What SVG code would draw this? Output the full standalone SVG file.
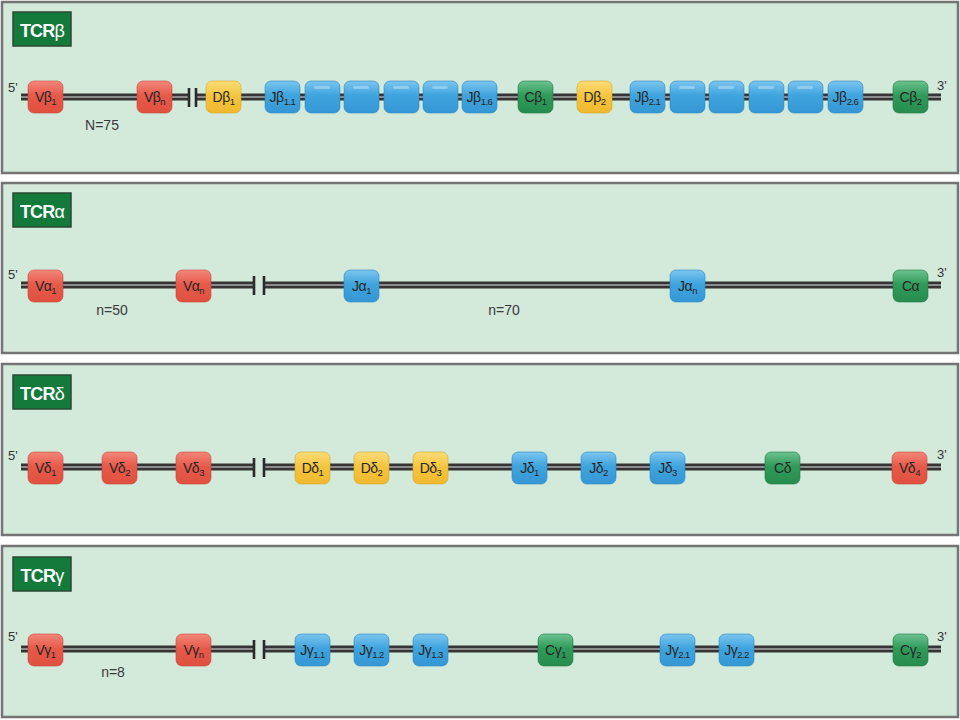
<svg xmlns="http://www.w3.org/2000/svg" width="960" height="720" viewBox="0 0 960 720">
<style>
.panel{fill:#d3e9da;stroke:#747474;stroke-width:2.5}
.title rect{fill:#137a3c;stroke:#2d4a34;stroke-width:1.5}
.title text{fill:#ffffff;font-family:"Liberation Sans",Arial,sans-serif;font-weight:bold;font-size:18px;letter-spacing:-0.8px}
.title tspan{font-weight:normal}
.dna{stroke:#353535;stroke-width:7;fill:none}
.dnac{stroke:#8c8c8c;stroke-width:2;fill:none}
.brk{stroke:#2a2a2a;stroke-width:2.6}
.seg{stroke-width:0.6}
.red{fill:url(#gr);stroke:#c9463a}
.blu{fill:url(#gb);stroke:#2b8ac4}
.yel{fill:url(#gy);stroke:#d9a828}
.grn{fill:url(#gg);stroke:#227c46}
.lbl{font-family:"Liberation Sans",Arial,sans-serif;font-size:14px;fill:#262626;text-anchor:middle;letter-spacing:-0.5px}
.sub{font-size:9.5px}
.end{font-family:"Liberation Sans",Arial,sans-serif;font-size:13px;fill:#333}
.cnt{font-family:"Liberation Sans",Arial,sans-serif;font-size:14px;fill:#3a3a3a;text-anchor:middle}
.hl{fill:#ffffff;opacity:0.3}
</style>
<defs>
<linearGradient id="gr" x1="0" y1="0" x2="0" y2="1"><stop offset="0" stop-color="#f3877a"/><stop offset="0.45" stop-color="#e65a4a"/><stop offset="1" stop-color="#e0503f"/></linearGradient>
<linearGradient id="gb" x1="0" y1="0" x2="0" y2="1"><stop offset="0" stop-color="#7cc5ee"/><stop offset="0.45" stop-color="#3fa4de"/><stop offset="1" stop-color="#3597d4"/></linearGradient>
<linearGradient id="gy" x1="0" y1="0" x2="0" y2="1"><stop offset="0" stop-color="#fbdc78"/><stop offset="0.45" stop-color="#f5c540"/><stop offset="1" stop-color="#efb92e"/></linearGradient>
<linearGradient id="gg" x1="0" y1="0" x2="0" y2="1"><stop offset="0" stop-color="#6cc290"/><stop offset="0.45" stop-color="#2f9b5a"/><stop offset="1" stop-color="#278c4f"/></linearGradient>
</defs>
<rect width="960" height="720" fill="#ffffff"/>

<!-- Panels -->
<rect class="panel" x="2" y="2" width="956" height="171"/>
<rect class="panel" x="2" y="183" width="956" height="170"/>
<rect class="panel" x="2" y="364" width="956" height="171"/>
<rect class="panel" x="2" y="546" width="956" height="171"/>

<g id="title-beta" class="title"><rect x="13" y="12" width="58" height="34"/><text x="42" y="37" text-anchor="middle">TCR<tspan>β</tspan></text></g>
<g id="title-alpha" class="title"><rect x="13" y="193" width="58" height="34"/><text x="42" y="218" text-anchor="middle">TCR<tspan>α</tspan></text></g>
<g id="title-delta" class="title"><rect x="13" y="375" width="58" height="34"/><text x="42" y="400" text-anchor="middle">TCR<tspan>δ</tspan></text></g>
<g id="title-gamma" class="title"><rect x="13" y="557" width="58" height="34"/><text x="42" y="582" text-anchor="middle">TCR<tspan>γ</tspan></text></g>

<!-- Connectors: DNA strands -->
<g id="connectors">
<path class="dna" d="M21 97H189M197 97H941"/>
<path class="dnac" d="M21 97H189M197 97H941"/>
<path class="brk" d="M189 88V107M196 88V107"/>
<path class="dna" d="M21 285H254M264 285H941"/>
<path class="dnac" d="M21 285H254M264 285H941"/>
<path class="brk" d="M254 276V295M264 276V295"/>
<path class="dna" d="M21 467H254M264 467H941"/>
<path class="dnac" d="M21 467H254M264 467H941"/>
<path class="brk" d="M254 458V477M264 458V477"/>
<path class="dna" d="M21 649H254M264 649H941"/>
<path class="dnac" d="M21 649H254M264 649H941"/>
<path class="brk" d="M254 640V659M264 640V659"/>
</g>

<g id="ends">
<text class="end" x="8" y="92">5'</text><text class="end" x="937" y="90">3'</text>
<text class="end" x="8" y="279">5'</text><text class="end" x="937" y="277">3'</text>
<text class="end" x="8" y="460">5'</text><text class="end" x="937" y="459">3'</text>
<text class="end" x="8" y="641">5'</text><text class="end" x="937" y="641">3'</text>
<text class="cnt" x="102" y="130">N=75</text>
<text class="cnt" x="112" y="315">n=50</text>
<text class="cnt" x="504" y="315">n=70</text>
<text class="cnt" x="113" y="677">n=8</text>
</g>

<!-- TCR beta -->
<g id="Vb1"><rect class="seg red" x="28" y="81" width="35" height="32" rx="6"/><text class="lbl" x="45.5" y="102">Vβ<tspan class="sub" dy="3">1</tspan></text></g>
<g id="Vbn"><rect class="seg red" x="137" y="81" width="35" height="32" rx="6"/><text class="lbl" x="154.5" y="102">Vβ<tspan class="sub" dy="3">n</tspan></text></g>
<g id="Db1"><rect class="seg yel" x="206" y="81" width="35" height="32" rx="6"/><text class="lbl" x="223.5" y="102">Dβ<tspan class="sub" dy="3">1</tspan></text></g>
<g id="Jb1-1"><rect class="seg blu" x="265" y="81" width="35" height="32" rx="6"/><text class="lbl" x="282.5" y="102">Jβ<tspan class="sub" dy="3">1.1</tspan></text></g>
<g id="Jb1-2"><rect class="seg blu" x="305" y="81" width="35" height="32" rx="6"/><rect class="hl" x="314" y="86" width="16" height="3" rx="1.5"/></g>
<g id="Jb1-3"><rect class="seg blu" x="344" y="81" width="35" height="32" rx="6"/><rect class="hl" x="353" y="86" width="16" height="3" rx="1.5"/></g>
<g id="Jb1-4"><rect class="seg blu" x="384" y="81" width="35" height="32" rx="6"/><rect class="hl" x="393" y="86" width="16" height="3" rx="1.5"/></g>
<g id="Jb1-5"><rect class="seg blu" x="423" y="81" width="35" height="32" rx="6"/><rect class="hl" x="432" y="86" width="16" height="3" rx="1.5"/></g>
<g id="Jb1-6"><rect class="seg blu" x="462" y="81" width="35" height="32" rx="6"/><text class="lbl" x="479.5" y="102">Jβ<tspan class="sub" dy="3">1.6</tspan></text></g>
<g id="Cb1"><rect class="seg grn" x="518" y="81" width="35" height="32" rx="6"/><text class="lbl" x="535.5" y="102">Cβ<tspan class="sub" dy="3">1</tspan></text></g>
<g id="Db2"><rect class="seg yel" x="577" y="81" width="35" height="32" rx="6"/><text class="lbl" x="594.5" y="102">Dβ<tspan class="sub" dy="3">2</tspan></text></g>
<g id="Jb2-1"><rect class="seg blu" x="630" y="81" width="35" height="32" rx="6"/><text class="lbl" x="647.5" y="102">Jβ<tspan class="sub" dy="3">2.1</tspan></text></g>
<g id="Jb2-2"><rect class="seg blu" x="670" y="81" width="35" height="32" rx="6"/><rect class="hl" x="679" y="86" width="16" height="3" rx="1.5"/></g>
<g id="Jb2-3"><rect class="seg blu" x="709" y="81" width="35" height="32" rx="6"/><rect class="hl" x="718" y="86" width="16" height="3" rx="1.5"/></g>
<g id="Jb2-4"><rect class="seg blu" x="749" y="81" width="35" height="32" rx="6"/><rect class="hl" x="758" y="86" width="16" height="3" rx="1.5"/></g>
<g id="Jb2-5"><rect class="seg blu" x="788" y="81" width="35" height="32" rx="6"/><rect class="hl" x="797" y="86" width="16" height="3" rx="1.5"/></g>
<g id="Jb2-6"><rect class="seg blu" x="828" y="81" width="35" height="32" rx="6"/><text class="lbl" x="845.5" y="102">Jβ<tspan class="sub" dy="3">2.6</tspan></text></g>
<g id="Cb2"><rect class="seg grn" x="893" y="81" width="35" height="32" rx="6"/><text class="lbl" x="910.5" y="102">Cβ<tspan class="sub" dy="3">2</tspan></text></g>

<!-- TCR alpha -->
<g id="Va1"><rect class="seg red" x="28" y="270" width="35" height="32" rx="6"/><text class="lbl" x="45.5" y="291">Vα<tspan class="sub" dy="3">1</tspan></text></g>
<g id="Van"><rect class="seg red" x="176" y="270" width="35" height="32" rx="6"/><text class="lbl" x="193.5" y="291">Vα<tspan class="sub" dy="3">n</tspan></text></g>
<g id="Ja1"><rect class="seg blu" x="344" y="270" width="35" height="32" rx="6"/><text class="lbl" x="361.5" y="291">Jα<tspan class="sub" dy="3">1</tspan></text></g>
<g id="Jan"><rect class="seg blu" x="670" y="270" width="35" height="32" rx="6"/><text class="lbl" x="687.5" y="291">Jα<tspan class="sub" dy="3">n</tspan></text></g>
<g id="Ca"><rect class="seg grn" x="893" y="270" width="35" height="32" rx="6"/><text class="lbl" x="910.5" y="291">Cα</text></g>

<!-- TCR delta -->
<g id="Vd1"><rect class="seg red" x="28" y="452" width="35" height="32" rx="6"/><text class="lbl" x="45.5" y="473">Vδ<tspan class="sub" dy="3">1</tspan></text></g>
<g id="Vd2"><rect class="seg red" x="102" y="452" width="35" height="32" rx="6"/><text class="lbl" x="119.5" y="473">Vδ<tspan class="sub" dy="3">2</tspan></text></g>
<g id="Vd3"><rect class="seg red" x="176" y="452" width="35" height="32" rx="6"/><text class="lbl" x="193.5" y="473">Vδ<tspan class="sub" dy="3">3</tspan></text></g>
<g id="Dd1"><rect class="seg yel" x="295" y="452" width="35" height="32" rx="6"/><text class="lbl" x="312.5" y="473">Dδ<tspan class="sub" dy="3">1</tspan></text></g>
<g id="Dd2"><rect class="seg yel" x="354" y="452" width="35" height="32" rx="6"/><text class="lbl" x="371.5" y="473">Dδ<tspan class="sub" dy="3">2</tspan></text></g>
<g id="Dd3"><rect class="seg yel" x="413" y="452" width="35" height="32" rx="6"/><text class="lbl" x="430.5" y="473">Dδ<tspan class="sub" dy="3">3</tspan></text></g>
<g id="Jd1"><rect class="seg blu" x="512" y="452" width="35" height="32" rx="6"/><text class="lbl" x="529.5" y="473">Jδ<tspan class="sub" dy="3">1</tspan></text></g>
<g id="Jd2"><rect class="seg blu" x="581" y="452" width="35" height="32" rx="6"/><text class="lbl" x="598.5" y="473">Jδ<tspan class="sub" dy="3">2</tspan></text></g>
<g id="Jd3"><rect class="seg blu" x="650" y="452" width="35" height="32" rx="6"/><text class="lbl" x="667.5" y="473">Jδ<tspan class="sub" dy="3">3</tspan></text></g>
<g id="Cd"><rect class="seg grn" x="765" y="452" width="35" height="32" rx="6"/><text class="lbl" x="782.5" y="473">Cδ</text></g>
<g id="Vd4"><rect class="seg red" x="892" y="452" width="35" height="32" rx="6"/><text class="lbl" x="909.5" y="473">Vδ<tspan class="sub" dy="3">4</tspan></text></g>

<!-- TCR gamma -->
<g id="Vg1"><rect class="seg red" x="28" y="634" width="35" height="32" rx="6"/><text class="lbl" x="45.5" y="655">Vγ<tspan class="sub" dy="3">1</tspan></text></g>
<g id="Vgn"><rect class="seg red" x="176" y="634" width="35" height="32" rx="6"/><text class="lbl" x="193.5" y="655">Vγ<tspan class="sub" dy="3">n</tspan></text></g>
<g id="Jg1-1"><rect class="seg blu" x="295" y="634" width="35" height="32" rx="6"/><text class="lbl" x="312.5" y="655">Jγ<tspan class="sub" dy="3">1.1</tspan></text></g>
<g id="Jg1-2"><rect class="seg blu" x="354" y="634" width="35" height="32" rx="6"/><text class="lbl" x="371.5" y="655">Jγ<tspan class="sub" dy="3">1.2</tspan></text></g>
<g id="Jg1-3"><rect class="seg blu" x="413" y="634" width="35" height="32" rx="6"/><text class="lbl" x="430.5" y="655">Jγ<tspan class="sub" dy="3">1.3</tspan></text></g>
<g id="Cg1"><rect class="seg grn" x="538" y="634" width="35" height="32" rx="6"/><text class="lbl" x="555.5" y="655">Cγ<tspan class="sub" dy="3">1</tspan></text></g>
<g id="Jg2-1"><rect class="seg blu" x="660" y="634" width="35" height="32" rx="6"/><text class="lbl" x="677.5" y="655">Jγ<tspan class="sub" dy="3">2.1</tspan></text></g>
<g id="Jg2-2"><rect class="seg blu" x="719" y="634" width="35" height="32" rx="6"/><text class="lbl" x="736.5" y="655">Jγ<tspan class="sub" dy="3">2.2</tspan></text></g>
<g id="Cg2"><rect class="seg grn" x="893" y="634" width="35" height="32" rx="6"/><text class="lbl" x="910.5" y="655">Cγ<tspan class="sub" dy="3">2</tspan></text></g>
</svg>
